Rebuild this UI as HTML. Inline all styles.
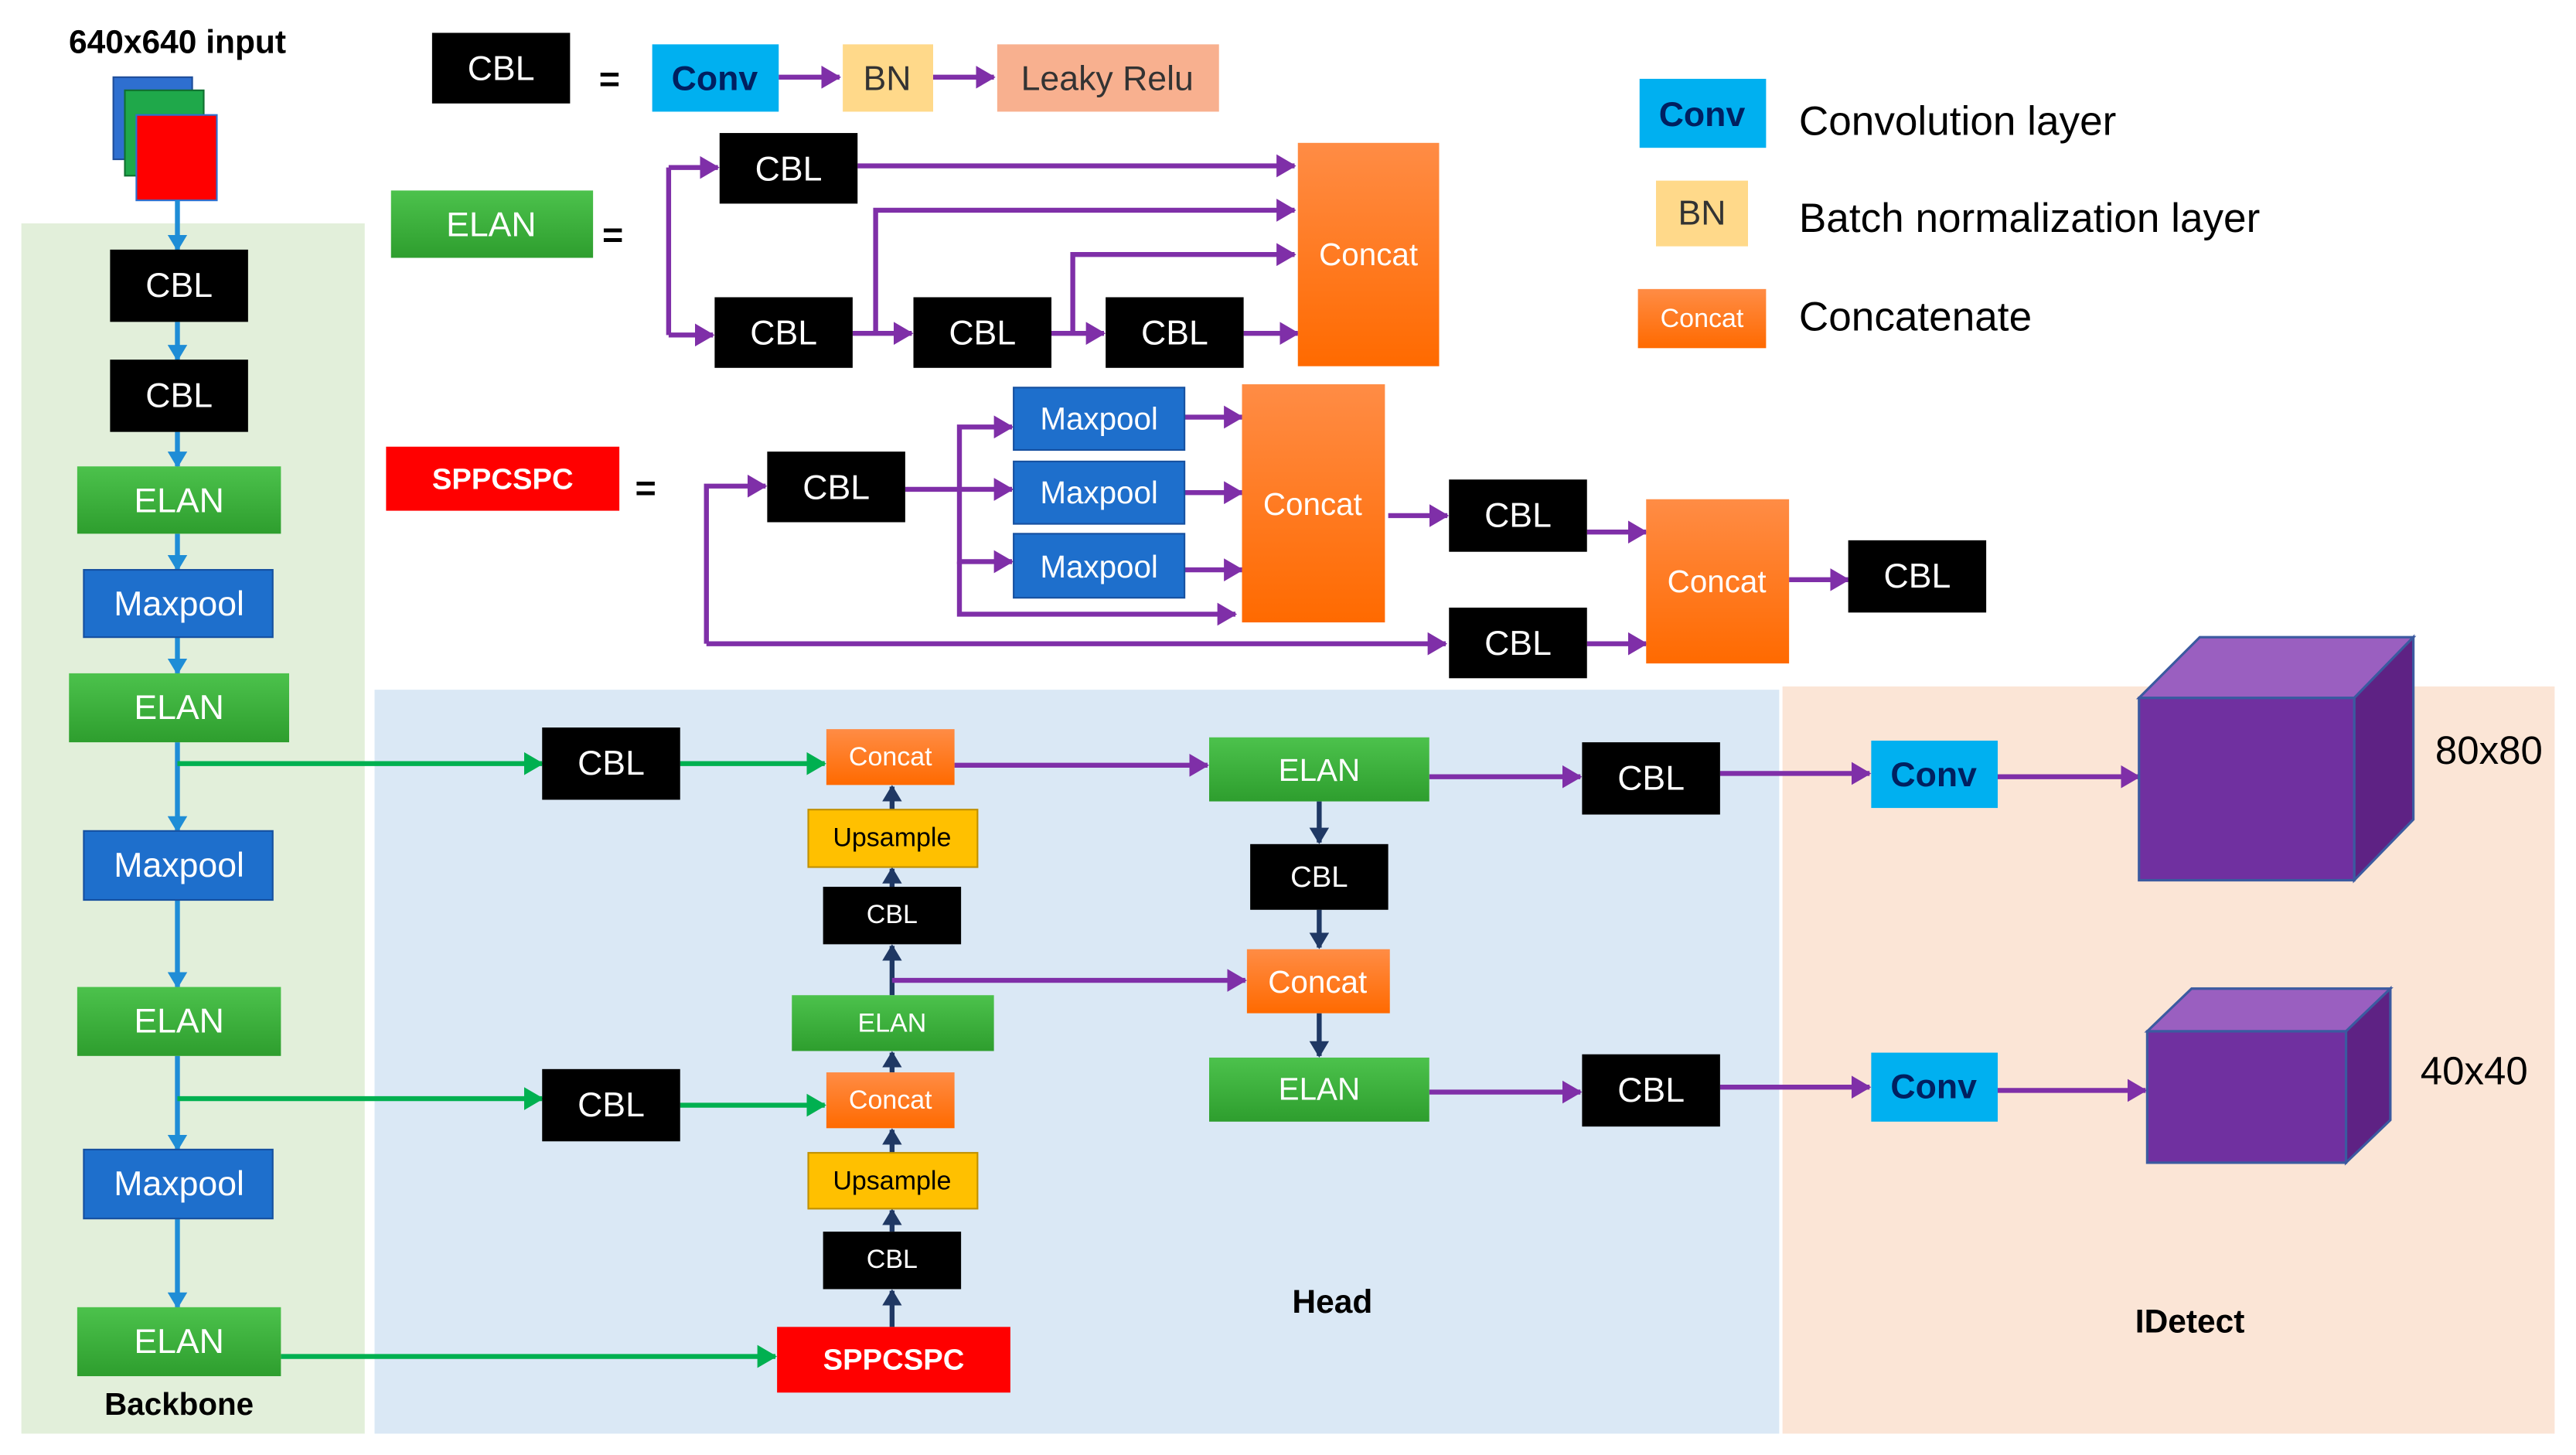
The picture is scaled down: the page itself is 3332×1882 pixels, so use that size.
<!DOCTYPE html>
<html><head><meta charset="utf-8"><style>
html,body{margin:0;padding:0;background:#fff}
svg{display:block}
text{font-family:"Liberation Sans",sans-serif;text-anchor:middle;dominant-baseline:central}
</style></head><body>
<svg width="3332" height="1882" viewBox="0 0 1568 886" preserveAspectRatio="none" xmlns="http://www.w3.org/2000/svg">
<defs>
<marker id="ap" markerUnits="userSpaceOnUse" markerWidth="12" markerHeight="14" refX="11" refY="7" orient="auto"><path d="M0,0 L12,7 L0,14 z" fill="#7f2fa8"/></marker>
<marker id="ab" markerUnits="userSpaceOnUse" markerWidth="10" markerHeight="12" refX="9" refY="6" orient="auto"><path d="M0,0 L10,6 L0,12 z" fill="#1f8dd6"/></marker>
<marker id="ag" markerUnits="userSpaceOnUse" markerWidth="12" markerHeight="14" refX="11" refY="7" orient="auto"><path d="M0,0 L12,7 L0,14 z" fill="#00b050"/></marker>
<marker id="an" markerUnits="userSpaceOnUse" markerWidth="10" markerHeight="12" refX="9" refY="6" orient="auto"><path d="M0,0 L10,6 L0,12 z" fill="#1f3864"/></marker>
<linearGradient id="og" x1="0" y1="0" x2="0" y2="1"><stop offset="0" stop-color="#ff8c45"/><stop offset="1" stop-color="#ff6a00"/></linearGradient>
<linearGradient id="gg" x1="0" y1="0" x2="0" y2="1"><stop offset="0" stop-color="#4cc24c"/><stop offset="1" stop-color="#2e9e2e"/></linearGradient>
</defs>
<!-- regions -->
<rect x="13" y="136" width="209" height="737" fill="#e2efda"/>
<rect x="228" y="420" width="855" height="453" fill="#dae8f5"/>
<rect x="1085" y="418" width="470" height="455" fill="#fbe5d6"/>

<!-- input -->
<text x="108" y="26" font-size="20" font-weight="bold">640x640 input</text>
<rect x="69" y="47" width="48" height="50" fill="#2e6fd0" stroke="#1f4e9a"/>
<rect x="76" y="55" width="48" height="52" fill="#1fa84a" stroke="#107030"/>
<rect x="83" y="70" width="49" height="52" fill="#ff0000" stroke="#2e6fd0"/>

<g fill="none" stroke-width="3">
<!-- backbone arrows -->
<g stroke="#1f8dd6" marker-end="url(#ab)">
<line x1="108" y1="122" x2="108" y2="152"/>
<line x1="108" y1="196" x2="108" y2="219"/>
<line x1="108" y1="263" x2="108" y2="284"/>
<line x1="108" y1="325" x2="108" y2="347"/>
<line x1="108" y1="388" x2="108" y2="410"/>
<line x1="108" y1="452" x2="108" y2="506"/>
<line x1="108" y1="548" x2="108" y2="601"/>
<line x1="108" y1="643" x2="108" y2="700"/>
<line x1="108" y1="742" x2="108" y2="796"/>
</g>
<!-- green -->
<g stroke="#00b050" marker-end="url(#ag)">
<polyline points="108,465 330,465"/>
<line x1="414" y1="465" x2="502" y2="465"/>
<polyline points="108,669 330,669"/>
<line x1="414" y1="673" x2="502" y2="673"/>
<line x1="171" y1="826" x2="472" y2="826"/>
</g>
<!-- navy up arrows -->
<g stroke="#1f3864" marker-end="url(#an)">
<line x1="543" y1="808" x2="543" y2="786"/>
<line x1="543" y1="750" x2="543" y2="737"/>
<line x1="543" y1="702" x2="543" y2="688"/>
<line x1="543" y1="653" x2="543" y2="641"/>
<line x1="543" y1="606" x2="543" y2="576"/>
<line x1="543" y1="540" x2="543" y2="529"/>
<line x1="543" y1="493" x2="543" y2="479"/>
<line x1="803" y1="488" x2="803" y2="513"/>
<line x1="803" y1="554" x2="803" y2="577"/>
<line x1="803" y1="617" x2="803" y2="643"/>
</g>
<!-- purple -->
<g stroke="#7f2fa8" marker-end="url(#ap)">
<line x1="474" y1="47" x2="511" y2="47"/>
<line x1="568" y1="47" x2="605" y2="47"/>
<polyline points="407,102 407,102 437,102"/>
<polyline points="407,204 434,204"/>
<line x1="522" y1="101" x2="788" y2="101"/>
<line x1="519" y1="203" x2="555" y2="203"/>
<polyline points="533,203 533,128 788,128"/>
<line x1="640" y1="203" x2="672" y2="203"/>
<polyline points="653,203 653,155 788,155"/>
<line x1="757" y1="203" x2="790" y2="203"/>
<polyline points="430,392 430,296 466,296"/>
<line x1="551" y1="298" x2="616" y2="298"/>
<polyline points="584,298 584,260 616,260"/>
<polyline points="584,298 584,342 616,342"/>
<polyline points="584,342 584,374 752,374"/>
<line x1="721" y1="254" x2="756" y2="254"/>
<line x1="721" y1="300" x2="756" y2="300"/>
<line x1="721" y1="347" x2="756" y2="347"/>
<line x1="845" y1="314" x2="881" y2="314"/>
<line x1="430" y1="392" x2="880" y2="392"/>
<line x1="966" y1="324" x2="1002" y2="324"/>
<line x1="966" y1="392" x2="1002" y2="392"/>
<line x1="1089" y1="353" x2="1125" y2="353"/>
<line x1="581" y1="466" x2="735" y2="466"/>
<line x1="870" y1="473" x2="962" y2="473"/>
<line x1="543" y1="597" x2="758" y2="597"/>
<line x1="870" y1="665" x2="962" y2="665"/>
<line x1="1047" y1="471" x2="1138" y2="471"/>
<line x1="1216" y1="473" x2="1302" y2="473"/>
<line x1="1047" y1="662" x2="1138" y2="662"/>
<line x1="1216" y1="664" x2="1306" y2="664"/>
</g>
<line x1="407" y1="102" x2="407" y2="204" stroke="#7f2fa8"/>
</g>

<!-- boxes -->
<g font-size="21">
<!-- backbone -->
<rect x="67" y="152" width="84" height="44" fill="#000"/><text x="109" y="174" fill="#fff">CBL</text>
<rect x="67" y="219" width="84" height="44" fill="#000"/><text x="109" y="241" fill="#fff">CBL</text>
<rect x="47" y="284" width="124" height="41" fill="url(#gg)"/><text x="109" y="305" fill="#fff">ELAN</text>
<rect x="51" y="347" width="115" height="41" fill="#1e6fcc" stroke="#1650a0"/><text x="109" y="368" fill="#fff">Maxpool</text>
<rect x="42" y="410" width="134" height="42" fill="url(#gg)"/><text x="109" y="431" fill="#fff">ELAN</text>
<rect x="51" y="506" width="115" height="42" fill="#1e6fcc" stroke="#1650a0"/><text x="109" y="527" fill="#fff">Maxpool</text>
<rect x="47" y="601" width="124" height="42" fill="url(#gg)"/><text x="109" y="622" fill="#fff">ELAN</text>
<rect x="51" y="700" width="115" height="42" fill="#1e6fcc" stroke="#1650a0"/><text x="109" y="721" fill="#fff">Maxpool</text>
<rect x="47" y="796" width="124" height="42" fill="url(#gg)"/><text x="109" y="817" fill="#fff">ELAN</text>
<text x="109" y="855" font-size="19" font-weight="bold">Backbone</text>

<!-- CBL def -->
<rect x="263" y="20" width="84" height="43" fill="#000"/><text x="305" y="42" fill="#fff">CBL</text>
<text x="371" y="48" font-size="22" font-weight="bold">=</text>
<rect x="397" y="27" width="77" height="41" fill="#00b0f0"/><text x="435" y="48" font-weight="bold" fill="#002060">Conv</text>
<rect x="513" y="27" width="55" height="41" fill="#ffd98a"/><text x="540" y="48" fill="#333">BN</text>
<rect x="607" y="27" width="135" height="41" fill="#f8b08f"/><text x="674" y="48" fill="#333">Leaky Relu</text>

<!-- ELAN def -->
<rect x="238" y="116" width="123" height="41" fill="url(#gg)"/><text x="299" y="137" fill="#fff">ELAN</text>
<text x="373" y="143" font-size="22" font-weight="bold">=</text>
<rect x="438" y="81" width="84" height="43" fill="#000"/><text x="480" y="103" fill="#fff">CBL</text>
<rect x="435" y="181" width="84" height="43" fill="#000"/><text x="477" y="203" fill="#fff">CBL</text>
<rect x="556" y="181" width="84" height="43" fill="#000"/><text x="598" y="203" fill="#fff">CBL</text>
<rect x="673" y="181" width="84" height="43" fill="#000"/><text x="715" y="203" fill="#fff">CBL</text>
<rect x="790" y="87" width="86" height="136" fill="url(#og)"/><text x="833" y="155" fill="#fff" font-size="19">Concat</text>

<!-- SPPCSPC def -->
<rect x="235" y="272" width="142" height="39" fill="#ff0000"/><text x="306" y="292" fill="#fff" font-weight="bold" font-size="18">SPPCSPC</text>
<text x="393" y="297" font-size="22" font-weight="bold">=</text>
<rect x="467" y="275" width="84" height="43" fill="#000"/><text x="509" y="297" fill="#fff">CBL</text>
<rect x="617" y="236" width="104" height="38" fill="#1e6fcc" stroke="#1650a0"/><text x="669" y="255" fill="#fff" font-size="19">Maxpool</text>
<rect x="617" y="281" width="104" height="38" fill="#1e6fcc" stroke="#1650a0"/><text x="669" y="300" fill="#fff" font-size="19">Maxpool</text>
<rect x="617" y="325" width="104" height="39" fill="#1e6fcc" stroke="#1650a0"/><text x="669" y="345" fill="#fff" font-size="19">Maxpool</text>
<rect x="756" y="234" width="87" height="145" fill="url(#og)"/><text x="799" y="307" fill="#fff" font-size="19">Concat</text>
<rect x="882" y="292" width="84" height="44" fill="#000"/><text x="924" y="314" fill="#fff">CBL</text>
<rect x="882" y="370" width="84" height="43" fill="#000"/><text x="924" y="392" fill="#fff">CBL</text>
<rect x="1002" y="304" width="87" height="100" fill="url(#og)"/><text x="1045" y="354" fill="#fff" font-size="19">Concat</text>
<rect x="1125" y="329" width="84" height="44" fill="#000"/><text x="1167" y="351" fill="#fff">CBL</text>

<!-- legend -->
<rect x="998" y="48" width="77" height="42" fill="#00b0f0"/><text x="1036" y="70" font-weight="bold" fill="#002060">Conv</text>
<text x="1095" y="74" font-size="25" style="text-anchor:start">Convolution layer</text>
<rect x="1008" y="110" width="56" height="40" fill="#ffd98a"/><text x="1036" y="130" fill="#333">BN</text>
<text x="1095" y="133" font-size="25" style="text-anchor:start">Batch normalization layer</text>
<rect x="997" y="176" width="78" height="36" fill="url(#og)"/><text x="1036" y="194" fill="#fff" font-size="16">Concat</text>
<text x="1095" y="193" font-size="25" style="text-anchor:start">Concatenate</text>

<!-- head -->
<rect x="330" y="443" width="84" height="44" fill="#000"/><text x="372" y="465" fill="#fff">CBL</text>
<rect x="503" y="444" width="78" height="34" fill="url(#og)"/><text x="542" y="461" fill="#fff" font-size="16">Concat</text>
<rect x="492" y="493" width="103" height="35" fill="#ffc000" stroke="#c09000"/><text x="543" y="510" font-size="16">Upsample</text>
<rect x="501" y="540" width="84" height="35" fill="#000"/><text x="543" y="557" fill="#fff" font-size="16">CBL</text>
<rect x="482" y="606" width="123" height="34" fill="url(#gg)"/><text x="543" y="623" fill="#fff" font-size="16">ELAN</text>
<rect x="503" y="653" width="78" height="34" fill="url(#og)"/><text x="542" y="670" fill="#fff" font-size="16">Concat</text>
<rect x="492" y="702" width="103" height="34" fill="#ffc000" stroke="#c09000"/><text x="543" y="719" font-size="16">Upsample</text>
<rect x="501" y="750" width="84" height="35" fill="#000"/><text x="543" y="767" fill="#fff" font-size="16">CBL</text>
<rect x="473" y="808" width="142" height="40" fill="#ff0000"/><text x="544" y="828" fill="#fff" font-weight="bold" font-size="18">SPPCSPC</text>
<rect x="330" y="651" width="84" height="44" fill="#000"/><text x="372" y="673" fill="#fff">CBL</text>
<rect x="736" y="449" width="134" height="39" fill="url(#gg)"/><text x="803" y="469" fill="#fff" font-size="19">ELAN</text>
<rect x="761" y="514" width="84" height="40" fill="#000"/><text x="803" y="534" fill="#fff" font-size="18">CBL</text>
<rect x="759" y="578" width="87" height="39" fill="url(#og)"/><text x="802" y="598" fill="#fff" font-size="19">Concat</text>
<rect x="736" y="644" width="134" height="39" fill="url(#gg)"/><text x="803" y="663" fill="#fff" font-size="19">ELAN</text>
<rect x="963" y="452" width="84" height="44" fill="#000"/><text x="1005" y="474" fill="#fff">CBL</text>
<rect x="963" y="642" width="84" height="44" fill="#000"/><text x="1005" y="664" fill="#fff">CBL</text>
<text x="811" y="793" font-size="20" font-weight="bold">Head</text>

<!-- idetect -->
<rect x="1139" y="451" width="77" height="41" fill="#00b0f0"/><text x="1177" y="472" font-weight="bold" fill="#002060">Conv</text>
<rect x="1139" y="641" width="77" height="42" fill="#00b0f0"/><text x="1177" y="662" font-weight="bold" fill="#002060">Conv</text>
<g stroke="#3b5aa0" stroke-width="1.5">
<polygon points="1302,425 1339,388 1469,388 1433,425" fill="#9a5fc0"/>
<polygon points="1433,425 1469,388 1469,499 1433,536" fill="#5e2284"/>
<rect x="1302" y="425" width="131" height="111" fill="#7030a0"/>
<polygon points="1307,628 1334,602 1455,602 1428,628" fill="#9a5fc0"/>
<polygon points="1428,628 1455,602 1455,682 1428,708" fill="#5e2284"/>
<rect x="1307" y="628" width="121" height="80" fill="#7030a0"/>
</g>
<text x="1515" y="457" font-size="24">80x80</text>
<text x="1506" y="652" font-size="24">40x40</text>
<text x="1333" y="805" font-size="20" font-weight="bold">IDetect</text>
</g>
</svg>
</body></html>
